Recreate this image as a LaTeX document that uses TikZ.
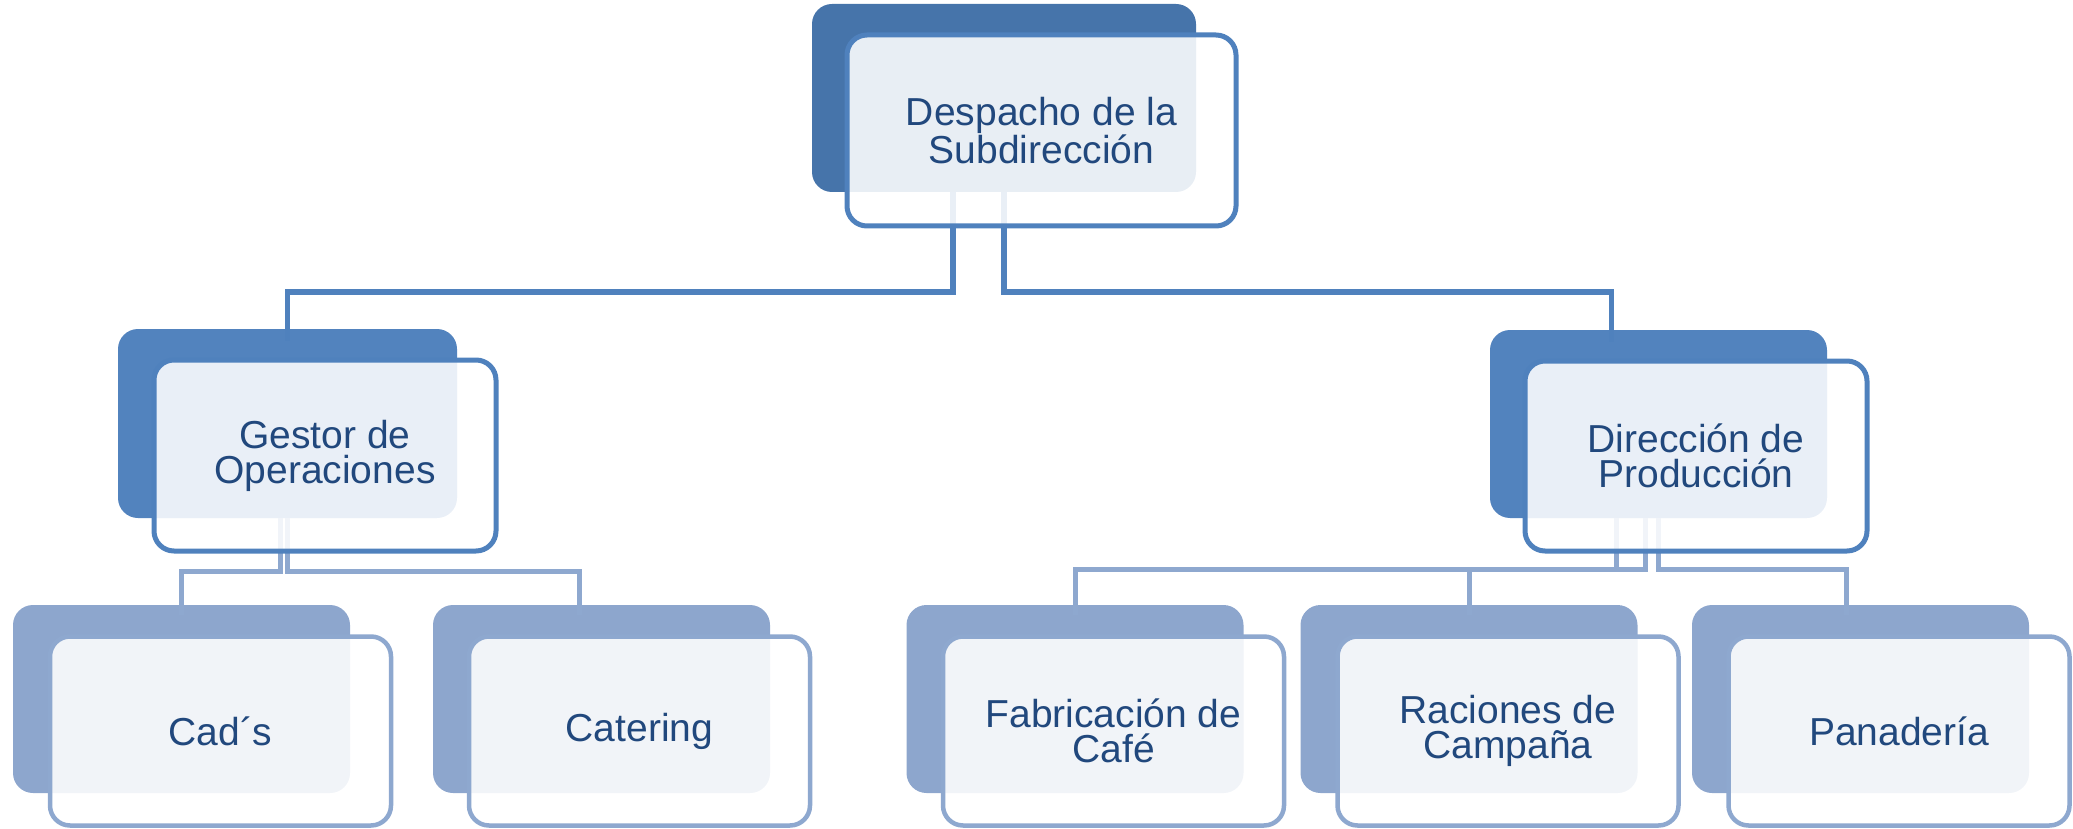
\documentclass[tikz,border=0pt]{standalone}
\usepackage{fontspec}
\setmainfont{Liberation Sans}
\definecolor{backA}{RGB}{70,116,170}
\definecolor{backB}{RGB}{82,131,190}
\definecolor{backC}{RGB}{141,166,205}
\definecolor{lineA}{RGB}{79,129,189}
\definecolor{lineC}{RGB}{142,168,207}
\definecolor{txt}{RGB}{33,72,125}
\tikzset{
  backbox/.style={draw=none, rounded corners=20pt, inner sep=0pt, minimum width=#1},
  frontbox/.style={rounded corners=20pt, inner sep=0pt, fill=white, fill opacity=0.88, text opacity=1, draw opacity=1, text=txt, align=center, font=\fontsize{39}{35}\selectfont},
  connA/.style={draw=lineA, line width=5.5pt},
  connC/.style={draw=lineC, line width=5pt},
}
\begin{document}
\begin{tikzpicture}[x=1pt,y=-1pt]
\useasboundingbox (0,0) rectangle (2073,829);
% back boxes
\node[backbox=384pt, fill=backA, minimum height=188pt] (b0) at (1004,98) {};
\node[backbox=339pt, fill=backB, minimum height=189pt] (b1) at (287.5,423.5) {};
\node[backbox=337pt, fill=backB, minimum height=188pt] (b2) at (1658.5,424) {};
\node[backbox=337pt, fill=backC, minimum height=188pt] (b3) at (181.5,699) {};
\node[backbox=337pt, fill=backC, minimum height=188pt] (b4) at (601.5,699) {};
\node[backbox=337pt, fill=backC, minimum height=188pt] (b5) at (1075,699) {};
\node[backbox=337pt, fill=backC, minimum height=188pt] (b6) at (1469,699) {};
\node[backbox=337pt, fill=backC, minimum height=188pt] (b7) at (1860.5,699) {};
% connectors
\draw[connA] ([xshift=-51pt]b0.south) -- ++(0,100) -| ([yshift=-12pt]b1.north);
\draw[connA] (b0.south) -- ++(0,100) -| ([xshift=-47pt,yshift=-12pt]b2.north);
\draw[connC] ([xshift=-7pt]b1.south) -- ++(0,53) -| ([yshift=-10pt]b3.north);
\draw[connC] (b1.south) -- ++(0,53) -| ([xshift=-22pt,yshift=-10pt]b4.north);
\draw[connC] ([xshift=-42pt]b2.south) -- ++(0,51) -| ([yshift=-10pt]b5.north);
\draw[connC] ([xshift=-13pt]b2.south) -- ++(0,51) -| ([yshift=-10pt]b6.north);
\draw[connC] (b2.south) -- ++(0,51) -| ([xshift=-14pt,yshift=-10pt]b7.north);
% front boxes
\node[frontbox, draw=lineA, line width=5pt, minimum width=389pt, minimum height=191pt] (f0) at (1041.5,130.5) {Despacho de la\\Subdirección};
\node[frontbox, draw=lineA, line width=5pt, minimum width=342pt, minimum height=191pt] (f1) at (325,455.5) {Gestor de\\Operaciones};
\node[frontbox, draw=lineA, line width=5pt, minimum width=342pt, minimum height=190pt] (f2) at (1696,456) {Dirección de\\Producción};
\node[frontbox, draw=lineC, line width=4.5pt, minimum width=341pt, minimum height=189pt] (f3) at (220.5,731) {Cad´s};
\node[frontbox, draw=lineC, line width=4.5pt, minimum width=341pt, minimum height=189pt] (f4) at (639.5,731) {Catering};
\node[frontbox, draw=lineC, line width=4.5pt, minimum width=341pt, minimum height=189pt] (f5) at (1113.5,731) {Fabricación de\\Café};
\node[frontbox, draw=lineC, line width=4.5pt, minimum width=341pt, minimum height=189pt] (f6) at (1508,731) {Raciones de\\Campaña};
\node[frontbox, draw=lineC, line width=4.5pt, minimum width=341pt, minimum height=189pt] (f7) at (1899,731) {Panadería};
\end{tikzpicture}
\end{document}
